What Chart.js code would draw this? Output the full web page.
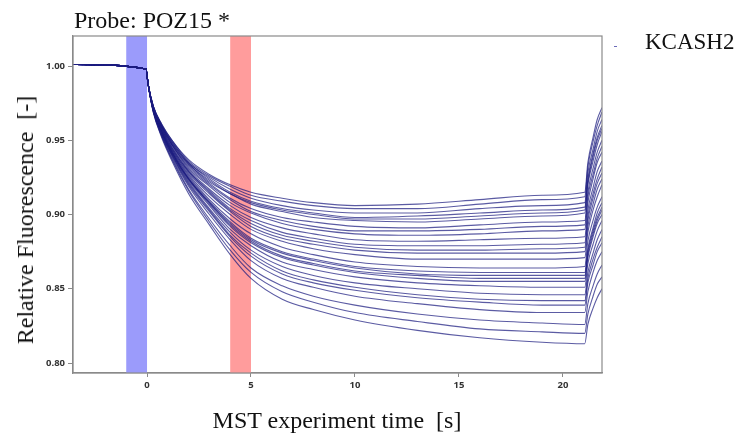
<!DOCTYPE html>
<html>
<head>
<meta charset="utf-8">
<script src="https://cdn.jsdelivr.net/npm/chart.js@4.4.0/dist/chart.umd.min.js"></script>
<style>
  html, body { margin: 0; padding: 0; background: #fff; }
  #wrap { position: relative; width: 741px; height: 442px; overflow: hidden; }
  #mst { position: absolute; left: 0; top: 0; }
  .lbl { position: absolute; font-family: "Liberation Serif", "Times New Roman", serif; color: #111; white-space: nowrap; line-height: 1; }
  #probe { left: 74px; top: 8px; font-size: 24px; }
  #kcash { left: 645px; top: 30px; font-size: 23px; }
  #kcash-mark { position: absolute; left: 614px; top: 46px; width: 3px; height: 1px; background: #6a6ab8; }
  #ytitle { left: 25px; top: 220px; font-size: 24px; transform: translate(-50%, -50%) rotate(-90deg); }
  #xtitle { left: 337px; top: 408px; font-size: 24px; transform: translateX(-50%); }
</style>
</head>
<body>
<div id="wrap">
  <canvas id="mst" width="741" height="442"></canvas>
  <div class="lbl" id="probe">Probe: POZ15 *</div>
  <div id="kcash-mark"></div>
  <div class="lbl" id="kcash">KCASH2</div>
  <div class="lbl" id="ytitle">Relative Fluorescence&nbsp; [-]</div>
  <div class="lbl" id="xtitle">MST experiment time&nbsp; [s]</div>
</div>
<script>
// time points (s) shared by every trace
const TIME_S = [-3.55, -0.05, 0.05,
  0.3, 0.7, 1.2, 2, 3, 4, 5, 6.5, 8, 10, 13, 16, 19, 21.05,
  21.2, 21.45, 21.65, 21.88];

// baseline before IR laser on (same for all capillaries)
const PRE_VALUES = [1.001, 0.998, 0.988];

// one row per capillary, values from t = 0.3 s onward
const TRACES = [
  [0.973, 0.961, 0.950, 0.937, 0.927, 0.920, 0.915, 0.911, 0.908, 0.906, 0.907, 0.910, 0.913, 0.915, 0.935, 0.952, 0.964, 0.972],
  [0.973, 0.961, 0.950, 0.936, 0.926, 0.919, 0.913, 0.909, 0.906, 0.904, 0.904, 0.907, 0.910, 0.912, 0.932, 0.949, 0.960, 0.969],
  [0.973, 0.960, 0.949, 0.935, 0.925, 0.917, 0.911, 0.906, 0.903, 0.901, 0.901, 0.904, 0.906, 0.908, 0.928, 0.944, 0.956, 0.964],
  [0.973, 0.960, 0.949, 0.935, 0.924, 0.915, 0.909, 0.904, 0.901, 0.898, 0.899, 0.901, 0.903, 0.905, 0.924, 0.941, 0.952, 0.960],
  [0.972, 0.960, 0.948, 0.934, 0.923, 0.914, 0.908, 0.903, 0.900, 0.897, 0.897, 0.899, 0.901, 0.903, 0.922, 0.939, 0.950, 0.958],
  [0.972, 0.960, 0.948, 0.934, 0.922, 0.914, 0.907, 0.902, 0.898, 0.896, 0.895, 0.897, 0.899, 0.901, 0.920, 0.936, 0.947, 0.956],
  [0.972, 0.959, 0.947, 0.933, 0.921, 0.911, 0.904, 0.898, 0.895, 0.892, 0.891, 0.893, 0.895, 0.896, 0.915, 0.931, 0.942, 0.950],
  [0.972, 0.959, 0.947, 0.932, 0.920, 0.910, 0.902, 0.896, 0.892, 0.889, 0.889, 0.890, 0.892, 0.893, 0.912, 0.927, 0.938, 0.946],
  [0.972, 0.959, 0.947, 0.931, 0.919, 0.908, 0.901, 0.894, 0.890, 0.887, 0.886, 0.887, 0.889, 0.890, 0.908, 0.924, 0.935, 0.942],
  [0.972, 0.958, 0.946, 0.930, 0.917, 0.906, 0.898, 0.891, 0.887, 0.883, 0.882, 0.883, 0.884, 0.885, 0.903, 0.918, 0.929, 0.936],
  [0.972, 0.958, 0.945, 0.929, 0.916, 0.904, 0.896, 0.888, 0.884, 0.880, 0.879, 0.879, 0.880, 0.881, 0.899, 0.914, 0.924, 0.932],
  [0.972, 0.958, 0.945, 0.929, 0.915, 0.903, 0.894, 0.886, 0.882, 0.878, 0.876, 0.876, 0.877, 0.878, 0.896, 0.911, 0.921, 0.928],
  [0.971, 0.957, 0.944, 0.928, 0.914, 0.902, 0.892, 0.884, 0.880, 0.876, 0.874, 0.874, 0.874, 0.875, 0.892, 0.907, 0.917, 0.924],
  [0.971, 0.957, 0.944, 0.927, 0.912, 0.900, 0.890, 0.882, 0.877, 0.873, 0.870, 0.870, 0.870, 0.871, 0.888, 0.903, 0.912, 0.920],
  [0.971, 0.957, 0.943, 0.926, 0.910, 0.897, 0.887, 0.878, 0.873, 0.868, 0.865, 0.864, 0.864, 0.865, 0.882, 0.896, 0.905, 0.912],
  [0.971, 0.956, 0.943, 0.925, 0.909, 0.895, 0.884, 0.875, 0.870, 0.865, 0.862, 0.861, 0.861, 0.861, 0.877, 0.891, 0.901, 0.908],
  [0.971, 0.956, 0.942, 0.924, 0.908, 0.894, 0.883, 0.874, 0.869, 0.864, 0.860, 0.859, 0.859, 0.859, 0.875, 0.889, 0.898, 0.905],
  [0.971, 0.956, 0.942, 0.924, 0.908, 0.893, 0.882, 0.872, 0.867, 0.862, 0.859, 0.857, 0.857, 0.857, 0.873, 0.887, 0.896, 0.903],
  [0.971, 0.956, 0.942, 0.924, 0.907, 0.892, 0.881, 0.871, 0.866, 0.861, 0.857, 0.855, 0.855, 0.855, 0.871, 0.885, 0.894, 0.900],
  [0.970, 0.955, 0.941, 0.923, 0.906, 0.890, 0.879, 0.868, 0.863, 0.858, 0.854, 0.852, 0.851, 0.851, 0.867, 0.880, 0.889, 0.896],
  [0.970, 0.955, 0.941, 0.922, 0.904, 0.888, 0.876, 0.865, 0.859, 0.854, 0.850, 0.847, 0.846, 0.846, 0.861, 0.874, 0.883, 0.890],
  [0.970, 0.955, 0.940, 0.921, 0.903, 0.886, 0.874, 0.862, 0.856, 0.851, 0.846, 0.843, 0.842, 0.842, 0.857, 0.870, 0.878, 0.885],
  [0.970, 0.954, 0.940, 0.920, 0.902, 0.885, 0.872, 0.860, 0.854, 0.849, 0.844, 0.841, 0.839, 0.839, 0.854, 0.866, 0.875, 0.881],
  [0.970, 0.954, 0.939, 0.919, 0.900, 0.883, 0.869, 0.857, 0.851, 0.845, 0.840, 0.836, 0.834, 0.834, 0.848, 0.861, 0.869, 0.875],
  [0.970, 0.953, 0.938, 0.917, 0.897, 0.879, 0.864, 0.852, 0.845, 0.839, 0.833, 0.829, 0.827, 0.826, 0.840, 0.852, 0.860, 0.866],
  [0.969, 0.953, 0.937, 0.916, 0.895, 0.876, 0.861, 0.848, 0.841, 0.834, 0.828, 0.823, 0.821, 0.820, 0.833, 0.845, 0.853, 0.858],
  [0.969, 0.952, 0.936, 0.914, 0.893, 0.873, 0.857, 0.843, 0.836, 0.829, 0.822, 0.817, 0.814, 0.813, 0.826, 0.837, 0.844, 0.850],
];

const X_TICKS = [0, 5, 10, 15, 20];
const Y_TICKS = [0.80, 0.85, 0.90, 0.95, 1.00];

// shaded regions: cold (before laser) and hot (evaluation window)
const COLD_REGION = [-1, 0];
const HOT_REGION = [4, 5];

const TRACE_COLOR = "rgba(28, 28, 128, 0.72)";
const AXIS_COLOR = "#8a8a8a";

const datasets = TRACES.map((row) => {
  const values = PRE_VALUES.concat(row);
  return {
    data: TIME_S.map((t, i) => ({ x: t, y: values[i] })),
    borderColor: TRACE_COLOR,
    borderWidth: 1.1,
    pointRadius: 0,
    fill: false,
    cubicInterpolationMode: "monotone",
  };
});

const regionsPlugin = {
  id: "regions",
  beforeDatasetsDraw(chart) {
    const { ctx, chartArea, scales } = chart;
    const shade = (range, color) => {
      const x0 = scales.x.getPixelForValue(range[0]);
      const x1 = scales.x.getPixelForValue(range[1]);
      ctx.fillStyle = color;
      ctx.fillRect(x0, chartArea.top, x1 - x0, chartArea.bottom - chartArea.top);
    };
    ctx.save();
    shade(COLD_REGION, "#9b9bfb");
    shade(HOT_REGION, "#ff9c9c");
    ctx.restore();
  },
  afterDraw(chart) {
    const { ctx, chartArea } = chart;
    ctx.save();
    ctx.strokeStyle = AXIS_COLOR;
    ctx.lineWidth = 1.2;
    ctx.strokeRect(chartArea.left, chartArea.top, chartArea.right - chartArea.left, chartArea.bottom - chartArea.top);
    ctx.restore();
  },
};

const tickFont = { family: "'Open Sans', 'DejaVu Sans', sans-serif", size: 9.5, weight: "bold" };

new Chart(document.getElementById("mst"), {
  type: "line",
  data: { datasets },
  plugins: [regionsPlugin],
  options: {
    responsive: false,
    animation: false,
    layout: { padding: { top: 36, right: 139, left: 0, bottom: 0 } },
    plugins: { legend: { display: false }, tooltip: { enabled: false } },
    scales: {
      x: {
        type: "linear",
        min: -3.56,
        max: 21.88,
        afterBuildTicks: (scale) => { scale.ticks = X_TICKS.map((v) => ({ value: v })); },
        afterFit: (scale) => { scale.height = 69; },
        grid: { drawOnChartArea: false, color: AXIS_COLOR, tickLength: 4 },
        border: { color: AXIS_COLOR, width: 1.2 },
        ticks: { color: "#333", font: tickFont, padding: 3, maxRotation: 0, callback: (v) => String(v) },
      },
      y: {
        type: "linear",
        min: 0.7933,
        max: 1.0202,
        afterBuildTicks: (scale) => { scale.ticks = Y_TICKS.map((v) => ({ value: v })); },
        afterFit: (scale) => { scale.width = 73; },
        grid: { drawOnChartArea: false, color: AXIS_COLOR, tickLength: 5 },
        border: { color: AXIS_COLOR, width: 1.2 },
        ticks: { color: "#333", font: tickFont, padding: 3, callback: (v) => Number(v).toFixed(2) },
      },
    },
  },
});
</script>
</body>
</html>
